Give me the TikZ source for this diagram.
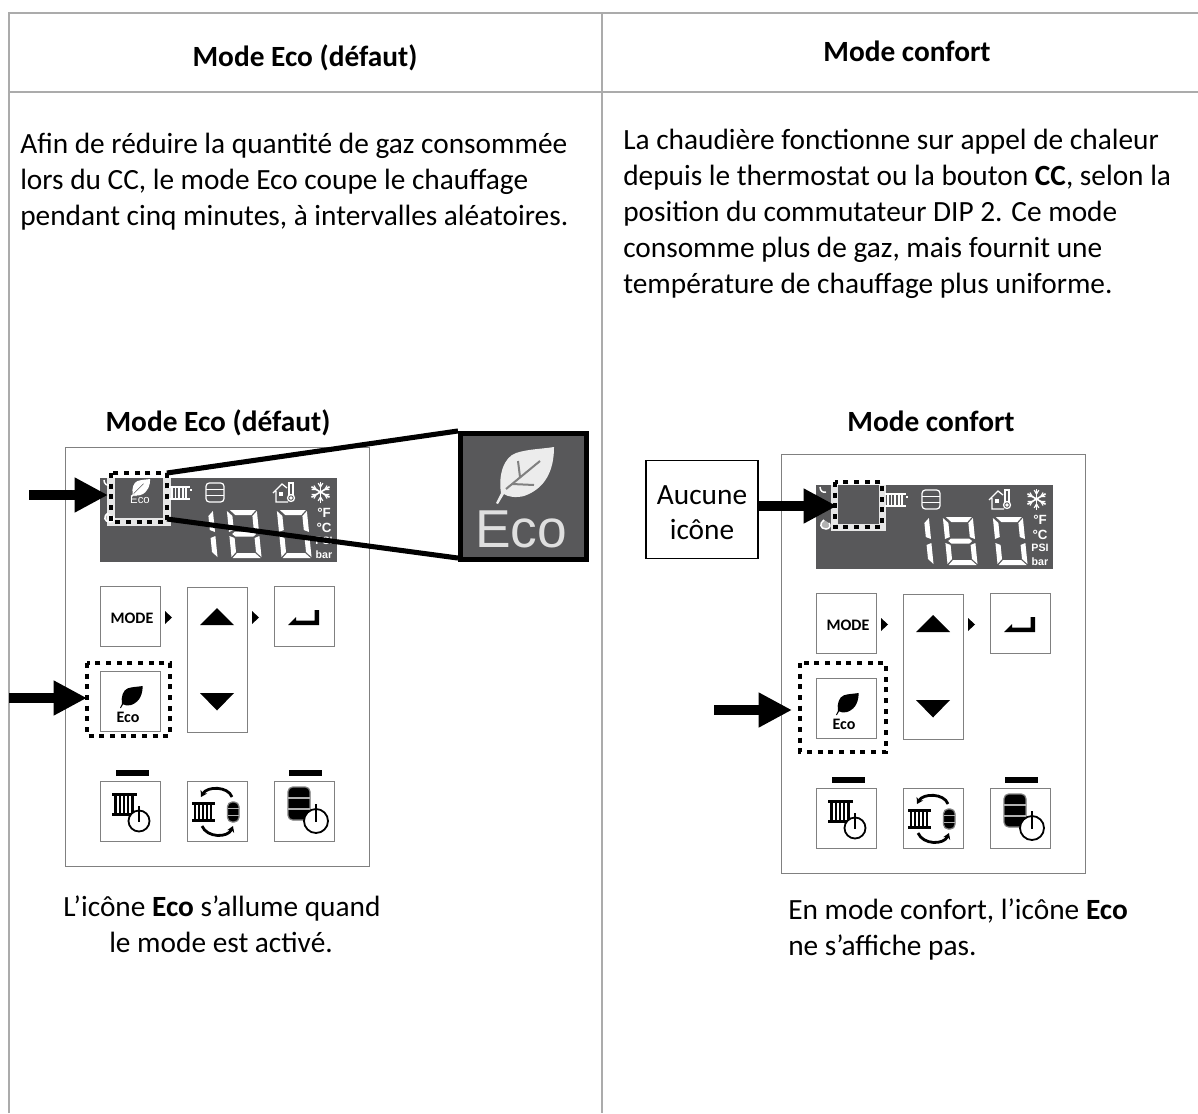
\documentclass[tikz,border=0pt]{standalone}
\usepackage{fontspec}
\setmainfont{Carlito}
\newfontfamily\lcdfont{Liberation Sans}
\usetikzlibrary{arrows.meta,calc}
\definecolor{rulegray}{HTML}{ABABAB}
\definecolor{lcd}{HTML}{58585A}
\definecolor{btn}{HTML}{808080}
\newcommand{\bodysize}{\fontsize{22pt}{27pt}\selectfont}
\tikzset{
 tline/.style={draw=rulegray,line width=1.5pt},
 bodytext/.style={inner sep=0pt,anchor=base west,font=\bodysize},
 headtext/.style={inner sep=0pt,anchor=base,font=\bodysize\bfseries},
 captext/.style={inner sep=0pt,anchor=base,font=\bodysize},
 btnbox/.style={draw=btn,line width=.75pt,fill=white},
 panelframe/.style={draw=btn,line width=.75pt},
 dotbox/.style={line width=3.7pt,dash pattern=on 3.8pt off 4.2pt,draw=black},
 glowbox/.style={line width=6.5pt,draw=white,opacity=.85},
 bigarrow/.style={line width=7.2pt,-{Triangle[length=25pt,width=24.5pt]}},
 calloutline/.style={line width=3.8pt,draw=black},
 lcdtext/.style={inner sep=0pt,text=white,font=\lcdfont\bfseries\fontsize{8pt}{9pt}\selectfont},
 lcdline/.style={draw=white,line width=.95pt},
}
\newcommand{\radiator}[5]{% x1 y1 x2 y2 colour
 \fill[#5] (#1,#2) rectangle (#3,{#2+(#4-#2)*0.13});
 \fill[#5] (#1,{#4-(#4-#2)*0.13}) rectangle (#3,#4);
 \foreach \t in {0.14,0.31,0.48,0.65,0.82}
  \fill[#5] ({#1+(\t-0.045)*(#3-#1)},#2) rectangle ({#1+(\t+0.045)*(#3-#1)},#4);
}
\newcommand{\powersym}[3]{% cx cy r
 \draw[black,line width=1.35pt,fill=white] (#1,#2) circle (#3);
 \draw[black,line width=1.35pt] (#1,#2-1.4*#3) -- (#1,#2+0.1*#3);
}
\newcommand{\tankicon}[4]{% x1 y1 x2 y2
 \draw[draw=btn,fill=black,line width=.9pt,rounded corners=3.5pt] (#1,#2) rectangle (#3,#4);
 \draw[draw=gray!60,line width=.8pt] (#1,{#2+(#4-#2)/3}) -- (#3,{#2+(#4-#2)/3});
 \draw[draw=gray!60,line width=.8pt] (#1,{#2+2*(#4-#2)/3}) -- (#3,{#2+2*(#4-#2)/3});
}
\newcommand{\leafshape}{(0,56) -- (5,46) .. controls (2,28) and (8,10) .. (20,6)
  .. controls (32,2) and (46,2) .. (58,0) .. controls (58,16) and (54,40) .. (28,49)
  .. controls (20,51) and (12,50) .. (8,47) -- (2,57) -- cycle}
\newcommand{\segs}[1]{% digit
 \foreach \sg in {#1}{
  \ifcase\sg
   \fill[white] (3,0)--(29,0)--(24,5)--(8,5)--cycle;\or
   \fill[white] (30,1)--(30,22)--(25,20)--(25,6)--cycle;\or
   \fill[white] (30,26)--(30,47)--(25,42)--(25,28)--cycle;\or
   \fill[white] (1,48)--(29,48)--(24,43)--(6,43)--cycle;\or
   \fill[white] (0,26)--(5,28)--(5,42)--(0,47)--cycle;\or
   \fill[white] (0,1)--(5,6)--(5,20)--(0,22)--cycle;\or
   \fill[white] (6,21.5)--(24,21.5)--(27,24)--(24,26.5)--(6,26.5)--(3,24)--cycle;
  \fi}
}
\newcommand{\panelbody}[1]{%
 \draw[panelframe] (65,447) rectangle (369,866);
 % display
 \fill[lcd] (100,478) rectangle (336.5,562);
 \draw[draw=white,line width=1.1pt] (104,480) .. controls (104,484) and (107,486) .. (110,485);
 \draw[draw=white,line width=1.1pt,fill=gray!60] (108,513) .. controls (103,516) and (104,522) .. (110,522) .. controls (114,522) and (115,518) .. (113,516);
 \radiator{169}{486}{190}{500}{white}
 \fill[white] (190,489) rectangle (192,491);
 \draw[lcdline,rounded corners=2.5pt] (206,483) rectangle (224,502);
 \draw[lcdline] (206,489.5) -- (224,489.5) (206,495.5) -- (224,495.5);
 \draw[lcdline] (273,493) -- (282,484) -- (287,488) (276,491) -- (276,502) -- (288,502);
 \fill[white] (279,492) rectangle (283,496);
 \draw[lcdline] (289,497) -- (289,483) -- (293,483) -- (293,497);
 \draw[lcdline,fill=lcd] (291,498) circle (3.5);
 \fill[white] (291,498) circle (1.8);
 \foreach \a in {30,90,150,210,270,330}{
  \draw[draw=white,line width=1.2pt] (320.5,492) -- ($(320.5,492)+(\a:10.5)$);
  \draw[draw=white,line width=.9pt] ($(320.5,492)+(\a:7)+(\a+50:3)$) -- ($(320.5,492)+(\a:5)$) -- ($(320.5,492)+(\a:7)+(\a-50:3)$);
 }
 \begin{scope}[cm={1,0,-0.1,1,(182.8,510)}]\segs{1,2}\end{scope}
 \begin{scope}[cm={1,0,-0.1,1,(226.8,510)}]\segs{0,1,2,3,4,5,6}\end{scope}
 \begin{scope}[cm={1,0,-0.1,1,(276.8,510)}]\segs{0,1,2,3,4,5}\end{scope}
 \node[lcdtext,font=\lcdfont\bfseries\fontsize{10pt}{10pt}\selectfont] (#1F) at (324,513) {°F};
 \node[lcdtext,font=\lcdfont\bfseries\fontsize{10pt}{10pt}\selectfont] (#1C) at (324,528) {°C};
 \node[lcdtext] (#1psi) at (324,541) {PSI};
 \node[lcdtext] (#1bar) at (324,555) {bar};
 % buttons
 \node[btnbox,minimum width=45pt,minimum height=44.5pt,inner sep=0pt] (#1mode) at (130,616.5) {};
 \node[inner sep=0pt,font=\fontsize{12pt}{12pt}\selectfont\bfseries] (#1modet) at (132,618) {MODE};
 \fill (165,611) -- (172,617.5) -- (165,624) -- cycle;
 \fill (252,611) -- (259,617.5) -- (252,624) -- cycle;
 \draw[btnbox] (187,587) rectangle (247,732);
 \fill (200,625) -- (234,625) -- (217,608) -- cycle;
 \fill (200,693) -- (234,693) -- (217,710.5) -- cycle;
 \node[btnbox,minimum width=45pt,minimum height=44.5pt,inner sep=0pt] (#1enter) at (304.5,616.5) {};
 \fill (319,610) -- (319,625) -- (288,625) -- (296,617) -- (296,620.5) -- (314.5,620.5) -- (314.5,610) -- cycle;
 \node[btnbox,minimum width=45pt,minimum height=44.5pt,inner sep=0pt] (#1eco) at (130,701.5) {};
 \begin{scope}[shift={(120,686)},scale=0.39]\fill \leafshape;\end{scope}
 \node[inner sep=0pt,font=\fontsize{12pt}{12pt}\selectfont\bfseries] (#1ecot) at (128,717) {Eco};
 \fill (116,770) rectangle (149,776);
 \fill (289,770) rectangle (322,776);
 \node[btnbox,minimum width=45pt,minimum height=44.5pt,inner sep=0pt] (#1ch) at (130,811.5) {};
 \radiator{112}{793}{137}{815.5}{black}
 \powersym{139}{821}{10.5}
 \node[btnbox,minimum width=45pt,minimum height=44.5pt,inner sep=0pt] (#1sw) at (217,811.5) {};
 \radiator{192}{802}{215}{822}{black}
 \tankicon{227.5}{802}{239}{822}
 \draw[line width=2.1pt,-{Stealth[length=4.5pt,width=5.5pt]}] (232,797) .. controls (228,786) and (207,786) .. (201,797);
 \draw[line width=2.1pt,-{Stealth[length=4.5pt,width=5.5pt]}] (202,826) .. controls (207,838) and (228,838) .. (233,826);
 \node[btnbox,minimum width=45.5pt,minimum height=44.5pt,inner sep=0pt] (#1dhw) at (304.5,811.5) {};
 \tankicon{288}{787}{310}{820}
 \powersym{316}{821}{12}
}
\begin{document}
\begin{tikzpicture}[x=0.75pt,y=-0.75pt]
\useasboundingbox (0,0) rectangle (1198,1113);
\fill[white] (0,0) rectangle (1198,1113);
% table rules
\draw[tline] (9,1113) -- (9,13) -- (1198,13);
\draw[tline] (602,13) -- (602,1113);
\draw[tline] (9,92) -- (1198,92);
% headers
\node[headtext] (h1) at (305,66) {Mode Eco (défaut)};
\node[headtext] (h2) at (907,61) {Mode confort};
% body text
\node[bodytext] (a1) at (20,153) {Afin de réduire la quantité de gaz consommée};
\node[bodytext] (a2) at (20,189) {lors du CC, le mode Eco coupe le chauffage};
\node[bodytext] (a3) at (20,225) {pendant cinq minutes, à intervalles aléatoires.};
\node[bodytext] (b1) at (623,149) {La chaudière fonctionne sur appel de chaleur};
\node[bodytext] (b2) at (623,185) {depuis le thermostat ou la bouton \textbf{CC}, selon la};
\node[bodytext] (b3) at (623,221) {position du commutateur DIP 2. Ce mode};
\node[bodytext] (b4) at (623,257) {consomme plus de gaz, mais fournit une};
\node[bodytext] (b5) at (623,293) {température de chauffage plus uniforme.};
% sub titles
\node[headtext] (s1) at (218,431) {Mode Eco (défaut)};
\node[headtext] (s2) at (931,431) {Mode confort};
% left panel
\panelbody{L}
\draw[glowbox] (111,473) rectangle (167,522);
\fill[lcd] (116,478) rectangle (163,517);
\draw[dotbox] (111,473) rectangle (167,522);
\begin{scope}[shift={(131,479)},scale=0.33]\fill[white] \leafshape;\draw[lcd,line width=.4pt] (8,44) -- (38,14);\end{scope}
\node[inner sep=0pt,text=white,font=\lcdfont\fontsize{8.5pt}{9pt}\selectfont] (Lsmall) at (140,499.5) {Eco};
\draw[dotbox] (87,663) rectangle (170,736);
% callout
\node[draw=black,line width=3.8pt,fill=lcd,minimum width=94.5pt,minimum height=94.5pt,inner sep=0pt] (zoombox) at (523.5,496.5) {};
\coordinate (ca) at (167,473);
\coordinate (cb) at (167,519);
\draw[calloutline] (ca) -- ($(zoombox.north west)+(0,0)$);
\draw[calloutline] (cb) -- ($(zoombox.south west)+(0,-4)$);
\begin{scope}[shift={(496,447)}]\fill[gray!15] \leafshape;
 \draw[gray,line width=1.5pt] (10,42) -- (44,14) (24,30) -- (22,14) (16,37) -- (38,38);\end{scope}
\node[inner sep=0pt,text=gray!25,font=\lcdfont\fontsize{40pt}{40pt}\selectfont] (zoomeco) at (521,529) {Eco};
% left arrows
\coordinate (l1) at (29,495);
\coordinate (l1e) at (108,495);
\draw[bigarrow] (l1) -- (l1e);
\coordinate (l2) at (9,698);
\coordinate (l2e) at (87,698);
\draw[bigarrow] (l2) -- (l2e);
% captions
\node[captext] (c1) at (222,916) {L’icône \textbf{Eco} s’allume quand};
\node[captext] (c2) at (221,952) {le mode est activé.};
% right panel
\begin{scope}[shift={(716,7)}]
\panelbody{R}
\end{scope}
\draw[glowbox] (835,482) rectangle (882,527);
\fill[lcd] (838,485) rectangle (879,524);
\draw[dotbox] (835,482) rectangle (882,527);
\draw[dotbox] (800,663) rectangle (886,752);
\node[draw=black,line width=.8pt,fill=white,minimum width=84pt,minimum height=74pt,inner sep=0pt] (none) at (702,509.5) {};
\node[inner sep=0pt,anchor=base,font=\bodysize] (n1) at (702,504) {Aucune};
\node[inner sep=0pt,anchor=base,font=\bodysize] (n2) at (702,539) {icône};
\coordinate (r1e) at (837,506);
\draw[bigarrow] (none.east |- r1e) -- (r1e);
\coordinate (r2) at (714,710);
\coordinate (r2e) at (792,710);
\draw[bigarrow] (r2) -- (r2e);
\node[captext,anchor=base west] (d1) at (788,919) {En mode confort, l’icône \textbf{Eco}};
\node[captext,anchor=base west] (d2) at (788,955) {ne s’affiche pas.};
\end{tikzpicture}
\end{document}
